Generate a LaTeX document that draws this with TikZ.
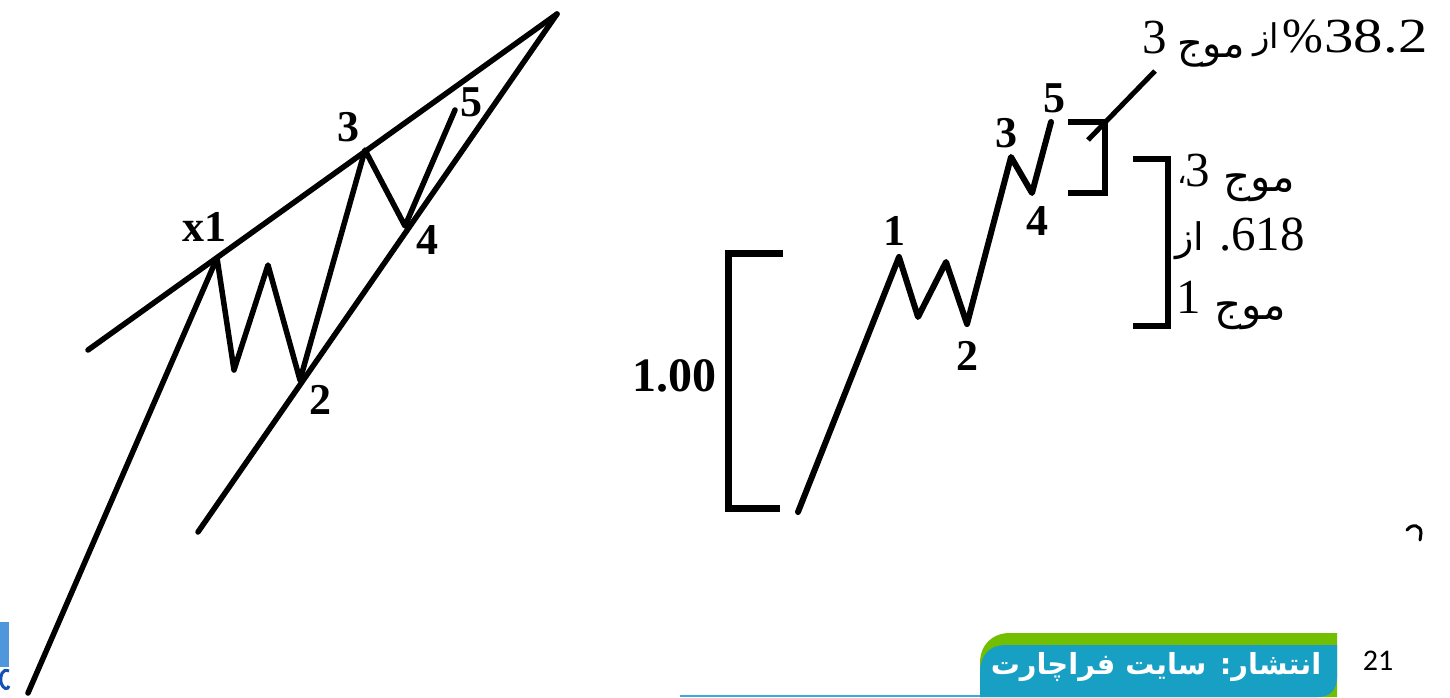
\documentclass[tikz,border=0pt]{standalone}
\usepackage{fontspec}
\setmainfont{Liberation Serif}
\newfontfamily\arabicfont[Script=Arabic]{DejaVu Sans}
\newfontfamily\calib{Carlito}
\TeXXeTstate=1
\definecolor{tabgreen}{RGB}{114,190,0}
\definecolor{tabblue}{RGB}{24,160,196}
\definecolor{thinblue}{RGB}{60,170,225}
\definecolor{logoblue}{RGB}{80,150,220}
\definecolor{logodark}{RGB}{20,80,180}
\begin{document}
\begin{tikzpicture}[x=1pt,y=-1pt,
  wave/.style={line width=5.5pt,line join=round,line cap=round},
  wavetwo/.style={line width=6pt,line join=round,line cap=round},
  brack/.style={line width=7pt,line join=miter},
  blab/.style={inner sep=0pt,font=\fontsize{44}{44}\selectfont\bfseries},
  rlab/.style={inner sep=0pt,font=\fontsize{49}{49}\selectfont},
  alab/.style={inner sep=0pt,font=\fontsize{42}{42}\selectfont\arabicfont},
  azlab/.style={inner sep=0pt,font=\fontsize{38}{38}\selectfont\arabicfont}]
\useasboundingbox (0,0) rectangle (1450,697);
\fill[white] (0,0) rectangle (1450,697);
% ---------- left diagram ----------
\coordinate (ua) at (88,350);
\coordinate (apex) at (557,14);
\coordinate (la) at (198,532);
\coordinate (s0) at (28,693);
\coordinate (p1) at (217,258);
\coordinate (pa) at (234,370);
\coordinate (pb) at (268,265);
\coordinate (p2) at (300,380);
\coordinate (p3) at (365,150);
\coordinate (p4) at (405,226);
\coordinate (p5) at (455,110);
\draw[wave] (ua) -- (apex);
\draw[wave] (la) -- (apex);
\draw[wave] (s0) -- (p1) -- (pa) -- (pb) -- (p2) -- (p3) -- (p4) -- (p5);
\node[blab] (lx1) at (204,227) {x1};
\node[blab] (l3) at (348,127) {3};
\node[blab] (l5) at (471,102) {5};
\node[blab] (l4) at (427,240) {4};
\node[blab] (l2) at (320,400) {2};
% ---------- right diagram ----------
\coordinate (bt1) at (783,253);
\coordinate (bt2) at (728,253);
\coordinate (bb2) at (728,508);
\coordinate (bb1) at (780,508);
\draw[brack] (bt1) -- (bt2) -- (bb2) -- (bb1);
\node[blab,font=\fontsize{48}{48}\selectfont\bfseries] (l100) at (674,376) {1.00};
\coordinate (r0) at (798,512);
\coordinate (r1) at (899,257);
\coordinate (ra) at (918,317);
\coordinate (rb) at (946,262);
\coordinate (r2) at (967,324);
\coordinate (r3) at (1011,157);
\coordinate (r4) at (1032,193);
\coordinate (r5) at (1051,122);
\draw[wavetwo] (r0) -- (r1) -- (ra) -- (rb) -- (r2) -- (r3) -- (r4) -- (r5);
\node[blab] (rl1) at (894,231) {1};
\node[blab] (rl2) at (967,356) {2};
\node[blab] (rl3) at (1006,133) {3};
\node[blab] (rl4) at (1037,221) {4};
\node[blab] (rl5) at (1054,98) {5};
% small bracket
\coordinate (sb1) at (1068,122);
\coordinate (sb2) at (1105,122);
\coordinate (sb3) at (1105,193);
\coordinate (sb4) at (1068,193);
\draw[brack,line width=6pt] (sb1) -- (sb2) -- (sb3) -- (sb4);
\coordinate (d1) at (1088,140);
\coordinate (d2) at (1155,71);
\draw[line width=5pt] (d1) -- (d2);
% big bracket
\coordinate (bk1) at (1133,159);
\coordinate (bk2) at (1168,159);
\coordinate (bk3) at (1168,326);
\coordinate (bk4) at (1133,326);
\draw[brack,line width=6pt] (bk1) -- (bk2) -- (bk3) -- (bk4);
% top text
\node[rlab] (t3) at (1155,38) {3};
\node[alab,font=\fontsize{40}{40}\selectfont\arabicfont] (tmowj) at (1211,54) {\beginR موج\endR};
\node[azlab,font=\fontsize{34}{34}\selectfont\arabicfont] (taz) at (1266,40) {\beginR از\endR};
\node[rlab] (tpct) at (1303,37) {\%};
\node[rlab,xscale=1.2] (tnum) at (1376,37) {38.2};
% right text block
\node[inner sep=0pt,font=\fontsize{30}{30}\selectfont\arabicfont] (mcomma) at (1182,180) {،};
\node[rlab] (m3) at (1198,171) {3};
\node[alab] (mmowj1) at (1259,188) {\beginR موج\endR};
\node[azlab] (maz) at (1190,241) {\beginR از\endR};
\node[rlab] (m618) at (1262,235) {.618};
\node[rlab] (m1) at (1189,297) {1};
\node[alab] (mmowj2) at (1250,316) {\beginR موج\endR};
% stray marks
\draw[line width=3pt,line cap=round] (1407,530) .. controls (1412,523) and (1421,525) .. (1421,533) -- (1420,540);
\fill[logoblue] (0,622) rectangle (9,667);
\draw[logodark,line width=3pt] (9,671) .. controls (2,668) and (0,676) .. (1,682) .. controls (3,690) and (8,690) .. (9,686);
% ---------- footer ----------
\draw[thinblue,line width=2pt] (680,696) -- (985,696);
\fill[tabgreen] (980,697) -- (980,663) .. controls (980,645) and (992,633) .. (1010,633) -- (1337,633) -- (1337,697) -- cycle;
\fill[tabblue] (980,697) -- (980,672) .. controls (980,655) and (990,645) .. (1005,645) -- (1337,645) -- (1337,677) .. controls (1337,690) and (1330,697) .. (1318,697) -- cycle;
\node[inner sep=0pt,text=white,font=\fontsize{29}{29}\selectfont\arabicfont\bfseries] (foot) at (1156,667) {\beginR انتشار: سایت فراچارت\endR};
\node[inner sep=0pt,font=\fontsize{30}{30}\selectfont\calib] (pg) at (1378,661) {21};
\end{tikzpicture}
\end{document}
